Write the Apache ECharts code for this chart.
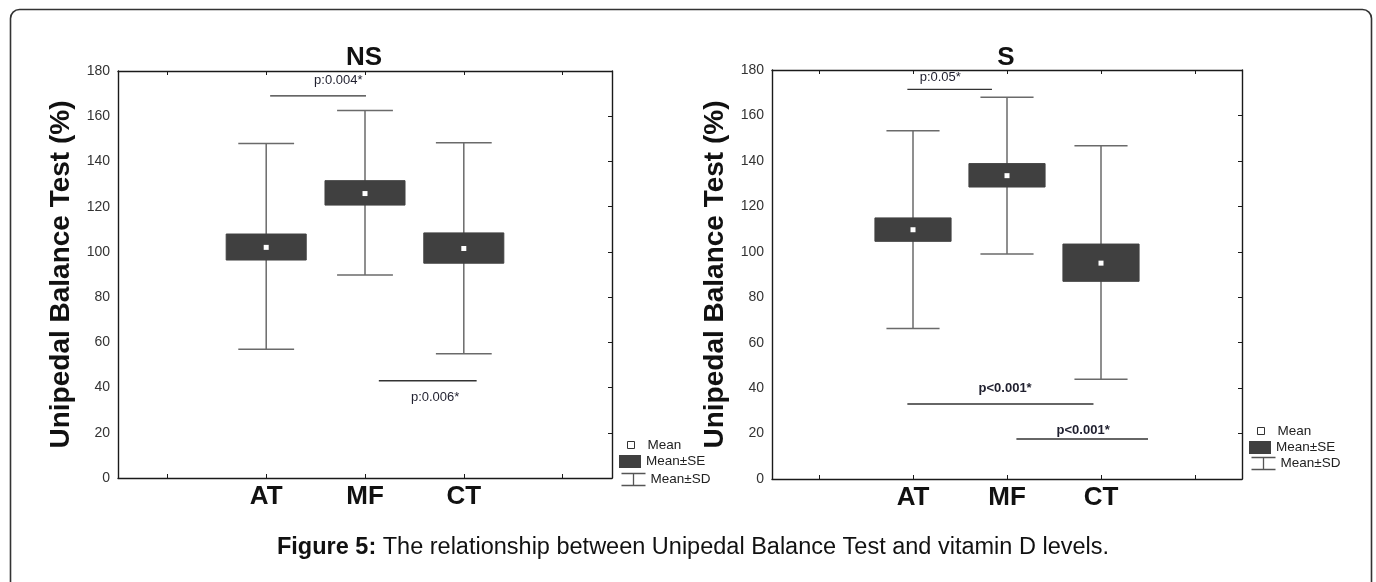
<!DOCTYPE html>
<html>
<head>
<meta charset="utf-8">
<script src="https://cdn.jsdelivr.net/npm/echarts@6/dist/echarts.min.js"></script>
<style>
html,body{margin:0;padding:0;background:#fff;}
#c{width:1376px;height:582px;}
</style>
</head>
<body>
<div id="c"></div>
<script>
// ---- data ----
const categories = ['AT', 'MF', 'CT'];
const catPos = [2, 3, 4];
const yTicks = [0, 20, 40, 60, 80, 100, 120, 140, 160, 180];

// NS panel
const nsMean   = [102.0, 125.8, 101.5];
const nsSeLow  = [96.4, 120.7, 95.0];
const nsSeHigh = [107.9, 131.5, 108.4];
const nsSdLow  = [56.9, 89.8, 55.0];
const nsSdHigh = [147.9, 162.5, 148.3];
// significance bars: [xFrom, xTo, y, labelX, labelY, label]
const nsSig = [
  [2.04, 3.01, 169, 2.73, 175.7, 'p:0.004*'],
  [3.14, 4.13, 43, 3.71, 35.8, 'p:0.006*']
];

// S panel
const sMean   = [109.7, 133.5, 95.0];
const sSeLow  = [104.6, 128.5, 87.0];
const sSeHigh = [114.9, 138.8, 103.4];
const sSdLow  = [66.2, 99.0, 43.9];
const sSdHigh = [153.3, 168.0, 146.7];
const sSig = [
  [1.94, 2.84, 171.5, 2.29, 176.8, 'p:0.05*'],
  [1.94, 3.92, 33, 2.98, 40, 'p<0.001*'],
  [3.10, 4.50, 17.6, 3.81, 21.2, 'p<0.001*']
];

const panelTitles = ['NS', 'S'];
const yName = 'Unipedal Balance Test (%)';
const captionBold = 'Figure 5:';
const captionText = ' The relationship between Unipedal Balance Test and vitamin D levels.';
const legendNames = ['Mean', 'Mean±SE', 'Mean±SD'];

// ---- chart ----
const FONT = '"Liberation Sans", Arial, sans-serif';
const BOX = '#404040';
const WHISK = '#6a6a6a';
const chart = echarts.init(document.getElementById('c'));

function xAx(grid, pos, labels) {
  return {
    type: 'value', gridIndex: grid, position: pos, min: 0.5, max: 5.5,
    axisLine: {show: true, onZero: false, lineStyle: {color: '#1a1a1a', width: 1.4}},
    axisTick: {show: true, inside: true, length: 4, customValues: [1, 2, 3, 4, 5], lineStyle: {color: '#1a1a1a'}},
    axisLabel: labels ? {
      show: true, customValues: catPos, margin: 6,
      formatter: v => categories[catPos.indexOf(v)] || '',
      fontSize: 26, fontWeight: 'bold', color: '#111', fontFamily: FONT
    } : {show: false},
    splitLine: {show: false}
  };
}
function yAx(grid, pos, labels) {
  return {
    type: 'value', gridIndex: grid, position: pos, min: 0, max: 180, interval: 20,
    name: labels ? yName : '', nameLocation: 'middle', nameGap: 43,
    nameTextStyle: {fontSize: 28, fontWeight: 'bold', color: '#111', fontFamily: FONT},
    axisLine: {show: true, lineStyle: {color: '#1a1a1a', width: 1.4}},
    axisTick: {show: !labels, inside: true, length: 4, lineStyle: {color: '#1a1a1a'}},
    axisLabel: labels ? {show: true, fontSize: 14, color: '#333', margin: 8, fontFamily: FONT} : {show: false},
    splitLine: {show: false}
  };
}

function sdSeries(xi, lo, hi) {
  return {
    type: 'custom', name: 'Mean±SD', xAxisIndex: xi, yAxisIndex: xi, z: 2,
    data: catPos.map((p, i) => [p, lo[i], hi[i]]),
    renderItem: function (params, api) {
      const x = api.value(0);
      const a = api.coord([x, api.value(1)]);
      const b = api.coord([x, api.value(2)]);
      const hw = api.size([0.565, 0])[0] / 2;
      const st = {stroke: WHISK, lineWidth: 1.5, fill: null};
      return {type: 'group', children: [
        {type: 'line', shape: {x1: b[0], y1: b[1], x2: a[0], y2: a[1]}, style: st},
        {type: 'line', shape: {x1: b[0] - hw, y1: b[1], x2: b[0] + hw, y2: b[1]}, style: st},
        {type: 'line', shape: {x1: a[0] - hw, y1: a[1], x2: a[0] + hw, y2: a[1]}, style: st}
      ]};
    }
  };
}
function seSeries(xi, lo, hi) {
  return {
    type: 'custom', name: 'Mean±SE', xAxisIndex: xi, yAxisIndex: xi, z: 3,
    data: catPos.map((p, i) => [p, lo[i], hi[i]]),
    renderItem: function (params, api) {
      const x = api.value(0);
      const a = api.coord([x, api.value(1)]);
      const b = api.coord([x, api.value(2)]);
      const w = api.size([0.81, 0])[0];
      return {type: 'rect', shape: {x: b[0] - w / 2, y: b[1], width: w, height: a[1] - b[1]},
        style: {fill: BOX, stroke: BOX, lineWidth: 1}};
    }
  };
}
function meanSeries(xi, m) {
  return {
    type: 'scatter', name: 'Mean', xAxisIndex: xi, yAxisIndex: xi, z: 4,
    symbol: 'rect', symbolSize: 5,
    itemStyle: {color: '#fff', opacity: 1},
    data: catPos.map((p, i) => [p, m[i]])
  };
}
function sigSeries(xi, sig) {
  return {
    type: 'custom', name: 'sig', xAxisIndex: xi, yAxisIndex: xi, z: 5,
    data: sig,
    renderItem: function (params, api) {
      const p1 = api.coord([api.value(0), api.value(2)]);
      const p2 = api.coord([api.value(1), api.value(2)]);
      const pl = api.coord([api.value(3), api.value(4)]);
      const txt = sig[params.dataIndex][5];
      const bold = txt.indexOf('<') >= 0;
      return {type: 'group', children: [
        {type: 'line', shape: {x1: p1[0], y1: p1[1], x2: p2[0], y2: p2[1]}, style: {stroke: '#333', lineWidth: 1.3, fill: null}},
        {type: 'text', x: pl[0], y: pl[1], style: {text: txt, fill: '#1f1f2e', fontSize: 13,
          fontWeight: bold ? 'bold' : 'normal', fontFamily: FONT, align: 'center', verticalAlign: 'middle'}}
      ]};
    }
  };
}

const sdIcon = 'path://M0,0H24M12,0V12M0,12H24';
function legends(left, meanTop, seTop, sdTop, meanLeft) {
  const ts = {fontSize: 13.5, color: '#222', fontFamily: FONT, lineHeight: 15};
  return [
    {left: meanLeft, top: meanTop, padding: 0, selectedMode: false, itemWidth: 7, itemHeight: 7,
      textStyle: Object.assign({}, ts, {padding: [0, 0, 0, 8]}),
      data: [{name: legendNames[0], icon: 'rect', itemStyle: {color: '#fff', borderColor: '#333', borderWidth: 1}}]},
    {left: left, top: seTop, padding: 0, selectedMode: false, itemWidth: 22, itemHeight: 13, textStyle: ts,
      data: [{name: legendNames[1], icon: 'rect', itemStyle: {color: BOX}}]},
    {left: left, top: sdTop, padding: 0, selectedMode: false, itemWidth: 24, itemHeight: 12, textStyle: ts,
      data: [{name: legendNames[2], icon: sdIcon, itemStyle: {color: 'none', borderColor: '#555', borderWidth: 1.3}}]}
  ];
}

const option = {
  animation: false,
  backgroundColor: '#fff',
  graphic: [{type: 'rect', left: 8, top: 7, shape: {width: 1361, height: 620, r: 9},
    style: {fill: 'none', stroke: '#333', lineWidth: 1.6}, silent: true}],
  title: [
    {text: panelTitles[0], left: 359, top: 40, textAlign: 'center',
      textStyle: {fontSize: 26, fontWeight: 'bold', color: '#111', fontFamily: FONT}},
    {text: panelTitles[1], left: 1001, top: 40, textAlign: 'center',
      textStyle: {fontSize: 26, fontWeight: 'bold', color: '#111', fontFamily: FONT}},
    {text: '{b|' + captionBold + '}' + captionText, left: 688, top: 531, textAlign: 'center',
      textStyle: {fontSize: 23.5, fontWeight: 'normal', color: '#111', fontFamily: FONT,
        rich: {b: {fontSize: 23.5, fontWeight: 'bold', color: '#111', fontFamily: FONT}}}}
  ],
  legend: [].concat(
    legends(619, 437.5, 454, 471, 627),
    legends(1249, 423.5, 440, 455, 1257)
  ),
  grid: [
    {left: 118, top: 71, width: 494, height: 407},
    {left: 772, top: 70, width: 470, height: 409}
  ],
  xAxis: [xAx(0, 'bottom', true), xAx(0, 'top', false), xAx(1, 'bottom', true), xAx(1, 'top', false)],
  yAxis: [yAx(0, 'left', true), yAx(0, 'right', false), yAx(1, 'left', true), yAx(1, 'right', false)],
  series: [
    sdSeries(0, nsSdLow, nsSdHigh), seSeries(0, nsSeLow, nsSeHigh), meanSeries(0, nsMean), sigSeries(0, nsSig),
    sdSeries(2, sSdLow, sSdHigh), seSeries(2, sSeLow, sSeHigh), meanSeries(2, sMean), sigSeries(2, sSig)
  ]
};
chart.setOption(option);
</script>
</body>
</html>
